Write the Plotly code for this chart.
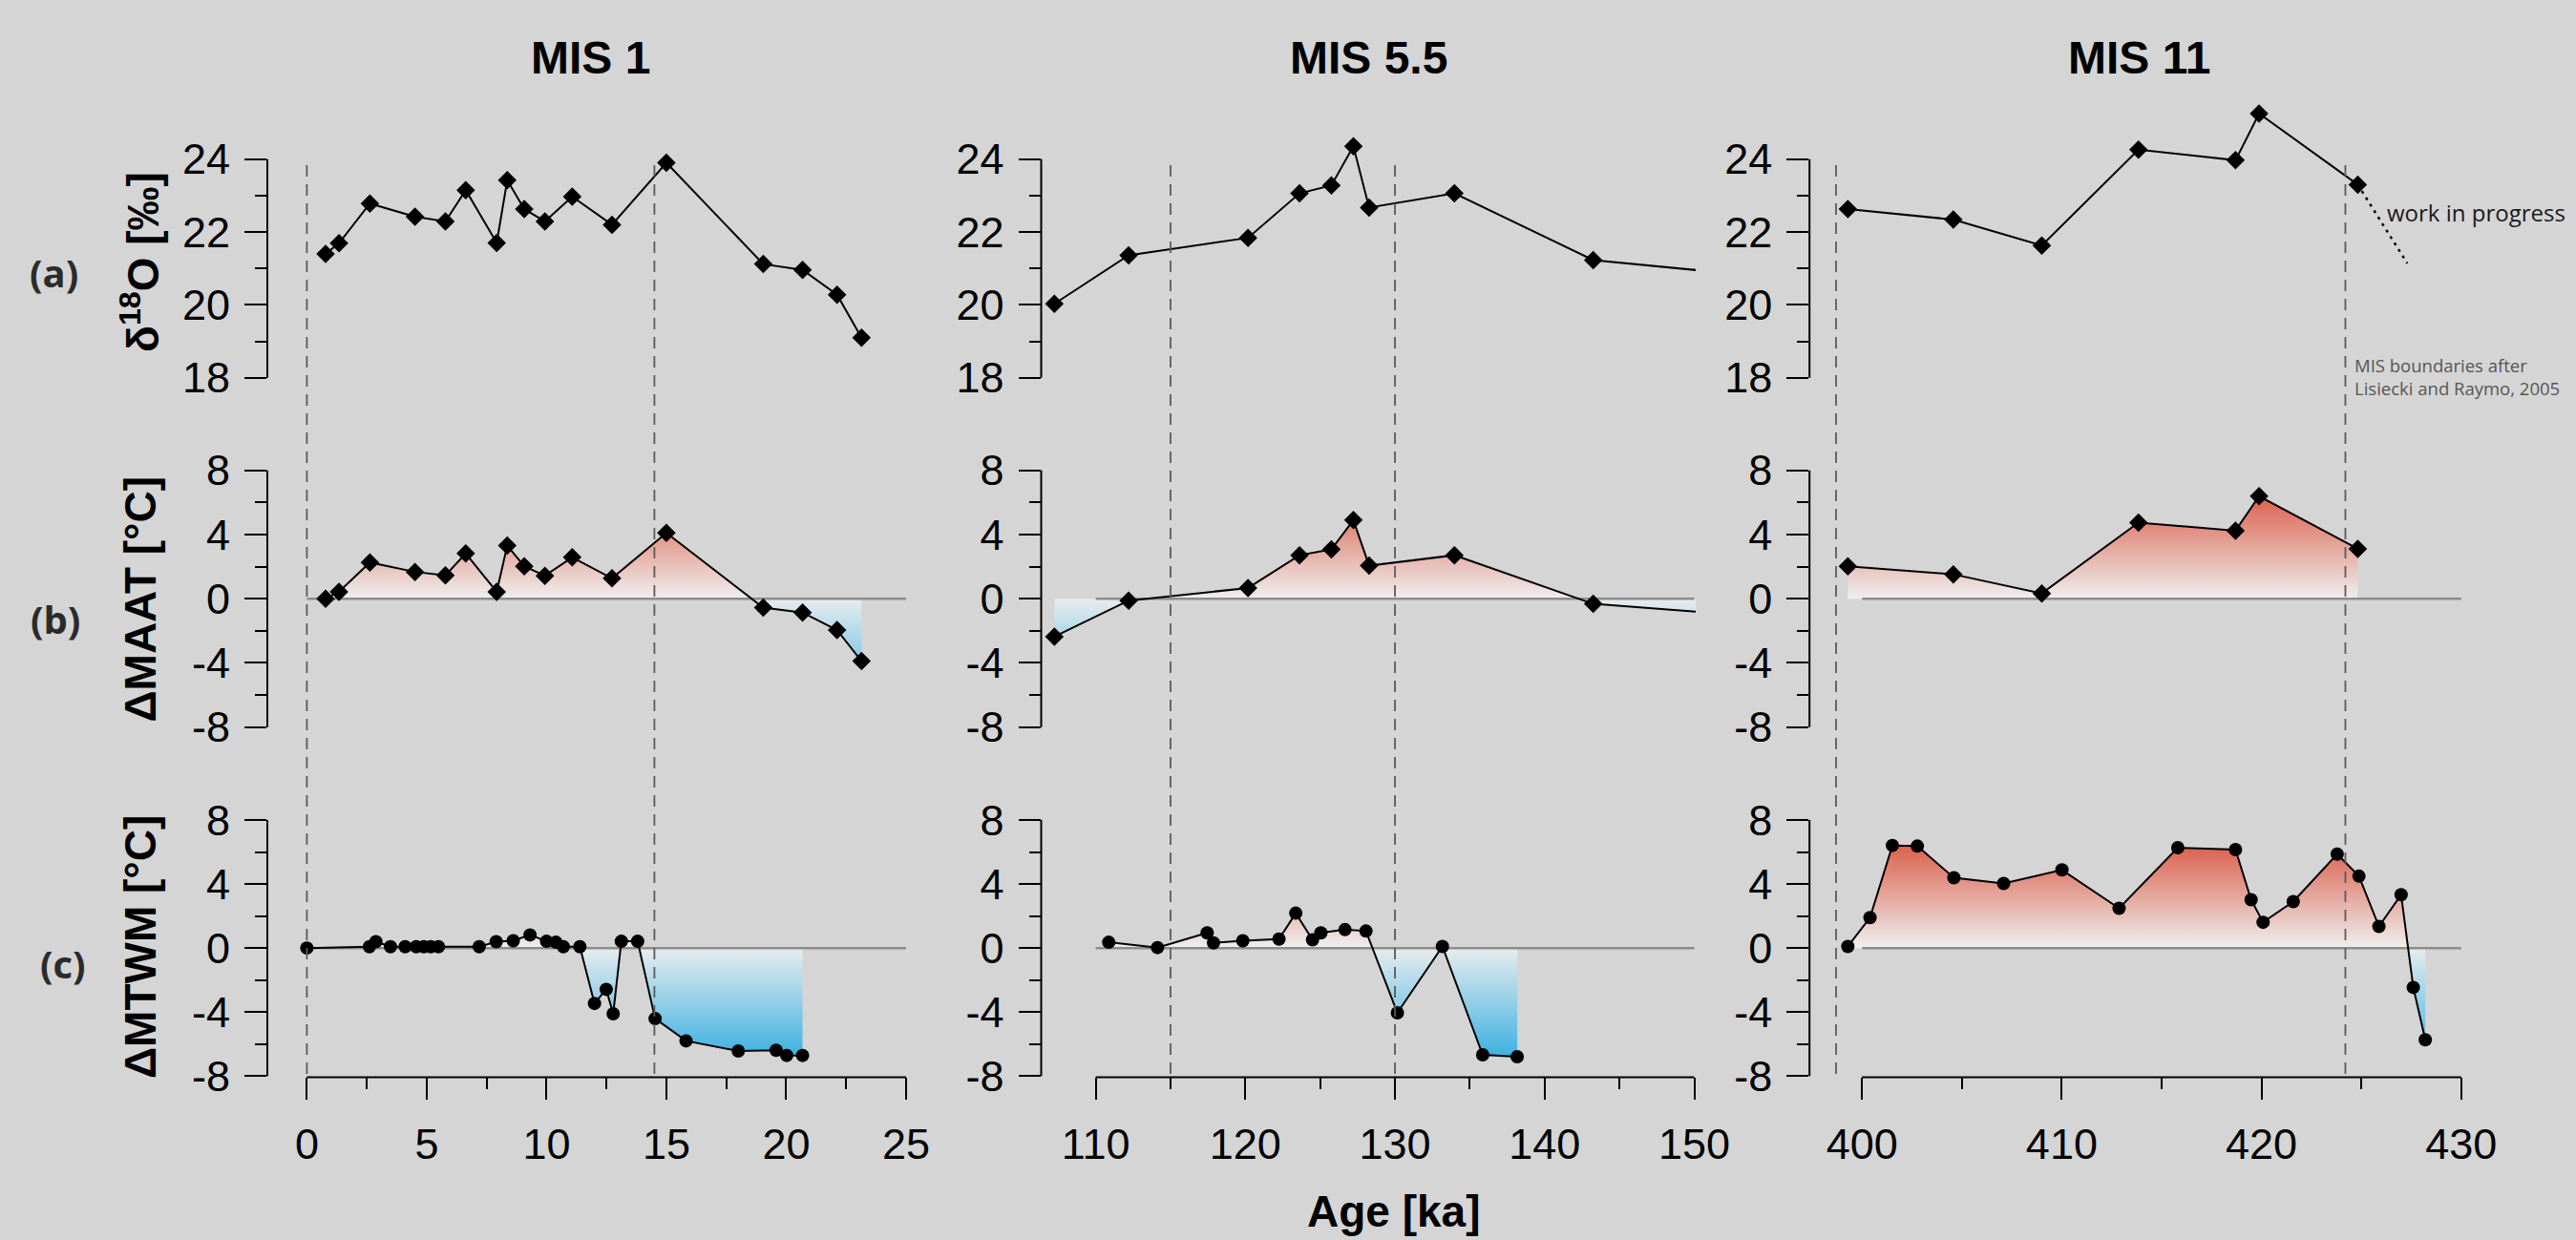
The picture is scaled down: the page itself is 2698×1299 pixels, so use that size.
import plotly.graph_objects as go

W, H = 2698, 1299

# ------------------------- data -------------------------
# MIS 1  (rows a, b share sample ages)
mis1_ab_age = [0.78, 1.34, 2.63, 4.51, 5.78, 6.63, 7.92, 8.36, 9.07, 9.93, 11.07, 12.73,
               15.0, 19.04, 20.68, 22.12, 23.14]
mis1_d18o = [21.40, 21.69, 22.78, 22.42, 22.29, 23.15, 21.70, 23.42, 22.63, 22.29, 22.97,
             22.20, 23.90, 21.12, 20.96, 20.28, 19.10]
mis1_maat = [0.00, 0.43, 2.26, 1.67, 1.46, 2.82, 0.43, 3.31, 2.02, 1.43, 2.58, 1.27,
             4.10, -0.56, -0.86, -1.95, -3.89]
mis1_c_age = [0.0, 2.61, 2.88, 3.49, 4.10, 4.56, 4.88, 5.17, 5.49, 7.19, 7.90, 8.61, 9.31,
              10.0, 10.39, 10.70, 11.39, 12.0, 12.49, 12.78, 13.12, 13.80, 14.53, 15.82,
              18.0, 19.58, 20.02, 20.68]
mis1_mtwm = [0.0, 0.08, 0.40, 0.08, 0.08, 0.08, 0.08, 0.08, 0.08, 0.08, 0.40, 0.46, 0.82,
             0.42, 0.36, 0.08, 0.08, -3.46, -2.58, -4.11, 0.42, 0.42, -4.41, -5.80,
             -6.43, -6.39, -6.71, -6.71]

# MIS 5.5
mis55_ab_age = [107.24, 112.2, 120.18, 123.62, 125.75, 127.22, 128.27, 133.97, 143.25, 152.0]
mis55_d18o = [20.03, 21.36, 21.84, 23.06, 23.28, 24.35, 22.67, 23.06, 21.23, 20.88]
mis55_maat = [-2.36, -0.12, 0.67, 2.71, 3.07, 4.90, 2.06, 2.71, -0.32, -0.94]
mis55_c_age = [110.87, 114.13, 117.45, 117.87, 119.83, 122.25, 123.37, 124.49, 125.05,
               126.66, 128.06, 130.16, 133.17, 135.86, 138.17]
mis55_mtwm = [0.36, 0.03, 0.95, 0.32, 0.46, 0.56, 2.18, 0.52, 0.95, 1.15, 1.06, -4.05,
              0.10, -6.67, -6.79]

# MIS 11
mis11_ab_age = [399.29, 404.57, 409.0, 413.84, 418.70, 419.88, 424.82]
mis11_d18o = [22.63, 22.34, 21.63, 24.26, 23.97, 25.25, 23.30]
mis11_maat = [2.02, 1.52, 0.33, 4.74, 4.24, 6.39, 3.11]
mis11_c_age = [399.29, 400.40, 401.52, 402.77, 404.60, 407.09, 410.01, 412.87, 415.81,
               418.70, 419.48, 420.08, 421.59, 423.79, 424.88, 425.88, 426.99, 427.60,
               428.20]
mis11_mtwm = [0.10, 1.90, 6.41, 6.37, 4.39, 4.03, 4.88, 2.48, 6.27, 6.15, 3.02, 1.61,
              2.90, 5.87, 4.49, 1.35, 3.33, -2.46, -5.73]
# "work in progress" continuation of the MIS 11 d18O record
mis11_wip_age = [424.82, 427.3]
mis11_wip_d18o = [23.30, 21.14]

# MIS boundaries (Lisiecki and Raymo)
mis1_bounds = [0.0, 14.5]
mis55_bounds = [115.0, 130.0]
mis11_bounds = [398.7, 424.2]

# tick labels
mis1_xticks = [0, 5, 10, 15, 20, 25]
mis1_xminor = [2.5, 7.5, 12.5, 17.5, 22.5]
mis55_xticks = [110, 120, 130, 140, 150]
mis55_xminor = [115, 125, 135, 145]
mis11_xticks = [400, 410, 420, 430]
mis11_xminor = [405, 415, 425]
d18o_ticks = [18, 20, 22, 24]
d18o_minor = [19, 21, 23]
temp_ticks = [-8, -4, 0, 4, 8]
temp_minor = [-6, -2, 2, 6]

column_titles = ["MIS 1", "MIS 5.5", "MIS 11"]
row_titles = ["δ<sup>18</sup>O [‰]", "ΔMAAT [°C]", "ΔMTWM [°C]"]
row_letters = ["(a)", "(b)", "(c)"]

# ------------------------- layout geometry (pixels) -------------------------
# per column: (value0, px0, value1, px1, left_px, right_px)
col_geo = [
    (0, 321.4, 25, 949.0, 280.0, 957.0),
    (110, 1147.6, 150, 1774.5, 1090.5, 1776.0),
    (400, 1950.2, 430, 2577.8, 1895.2, 2585.0),
]
# per row: (value_top, px_top, value_bot, px_bot, range_lo, range_hi)
row_geo = [
    (24, 166.7, 18, 395.7, 17.86, 25.8),
    (8, 492.7, -8, 761.7, -8.4, 8.4),
    (8, 859.0, -8, 1127.3, -8.07, 8.4),
]

columns = [
    dict(ab_age=mis1_ab_age, d18o=mis1_d18o, maat=mis1_maat, c_age=mis1_c_age,
         mtwm=mis1_mtwm, bounds=mis1_bounds, xt=mis1_xticks, xm=mis1_xminor),
    dict(ab_age=mis55_ab_age, d18o=mis55_d18o, maat=mis55_maat, c_age=mis55_c_age,
         mtwm=mis55_mtwm, bounds=mis55_bounds, xt=mis55_xticks, xm=mis55_xminor),
    dict(ab_age=mis11_ab_age, d18o=mis11_d18o, maat=mis11_maat, c_age=mis11_c_age,
         mtwm=mis11_mtwm, bounds=mis11_bounds, xt=mis11_xticks, xm=mis11_xminor),
]

TICKFONT = dict(family="Liberation Sans, Arial, Helvetica, sans-serif", size=45, color="black")
BOLD = "Liberation Sans, Arial, Helvetica, sans-serif"
HUMAN = "Open Sans, Noto Sans, sans-serif"
RED_GRAD = dict(type="vertical", start=0, stop=7,
                colorscale=[[0, "#efefee"], [1, "#d9533f"]])
BLUE_GRAD = dict(type="vertical", start=0, stop=-7,
                 colorscale=[[0, "#e8ecee"], [1, "#36afe0"]])


def ax_name(i):
    return "" if i == 1 else str(i)


def split_part(x, y, positive):
    xs, ys = [], []
    for k in range(len(x)):
        if k > 0 and y[k - 1] * y[k] < 0:
            xc = x[k - 1] + (x[k] - x[k - 1]) * y[k - 1] / (y[k - 1] - y[k])
            xs.append(xc)
            ys.append(0.0)
        xs.append(x[k])
        ys.append(max(y[k], 0.0) if positive else min(y[k], 0.0))
    return xs, ys


fig = go.Figure()
layout = {}
shapes = []
annotations = []

for c, col in enumerate(columns):
    v0, p0, v1, p1, lpx, rpx = col_geo[c]
    ppu = (p1 - p0) / (v1 - v0)
    xr = [v0 + (lpx - p0) / ppu, v0 + (rpx - p0) / ppu]
    xdom = [lpx / W, rpx / W]
    for r in range(3):
        i = r * 3 + c + 1
        n = ax_name(i)
        tv, tp, bv, bp, lo, hi = row_geo[r]
        yppu = (bp - tp) / (tv - bv)
        top_px = tp - (hi - tv) * yppu
        bot_px = bp + (bv - lo) * yppu
        ydom = [1 - bot_px / H, 1 - top_px / H]

        xa = dict(domain=xdom, range=xr, anchor="y" + n, showgrid=False, zeroline=False,
                  showline=False, automargin=False)
        if r == 2:
            xa.update(ticks="outside", ticklen=23, tickwidth=2, tickcolor="black",
                      tickmode="array", tickvals=col["xt"], ticktext=[str(t) for t in col["xt"]],
                      tickfont=TICKFONT, ticklabelstandoff=8,
                      minor=dict(ticks="outside", ticklen=12, tickwidth=2, tickcolor="black",
                                 tickmode="array", tickvals=col["xm"]))
        else:
            xa.update(visible=False)
        layout["xaxis" + n] = xa

        yt, ym = (d18o_ticks, d18o_minor) if r == 0 else (temp_ticks, temp_minor)
        layout["yaxis" + n] = dict(domain=ydom, range=[lo, hi], anchor="x" + n,
                                   showgrid=False, zeroline=False, showline=False,
                                   automargin=False,
                                   ticks="outside", ticklen=23, tickwidth=2, tickcolor="black",
                                   tickmode="array", tickvals=yt, ticklabelstandoff=6,
                                   ticktext=[str(t) for t in yt], tickfont=TICKFONT,
                                   minor=dict(ticks="outside", ticklen=12, tickwidth=2,
                                              tickcolor="black", tickmode="array", tickvals=ym))
        # y axis line over the tick span
        shapes.append(dict(type="line", xref="x" + n + " domain", yref="y" + n,
                           x0=0, x1=0, y0=yt[0], y1=yt[-1],
                           line=dict(color="black", width=2), layer="above"))
        if r == 2:
            shapes.append(dict(type="line", xref="x" + n, yref="y" + n + " domain",
                               x0=col["xt"][0], x1=col["xt"][-1], y0=0, y1=0,
                               line=dict(color="black", width=2), layer="above"))

        xk, yk = "x" + n, "y" + n
        if r == 0:
            xs, ys, sym, msize = col["ab_age"], col["d18o"], "diamond", 15
        elif r == 1:
            xs, ys, sym, msize = col["ab_age"], col["maat"], "diamond", 15
        else:
            xs, ys, sym, msize = col["c_age"], col["mtwm"], "circle", 14

        if r > 0:
            px_, py_ = split_part(xs, ys, True)
            fig.add_trace(go.Scatter(x=px_, y=py_, xaxis=xk, yaxis=yk, mode="lines",
                                     line=dict(width=0), fill="tozeroy",
                                     fillgradient=RED_GRAD, hoverinfo="skip",
                                     showlegend=False))
            nx_, ny_ = split_part(xs, ys, False)
            fig.add_trace(go.Scatter(x=nx_, y=ny_, xaxis=xk, yaxis=yk, mode="lines",
                                     line=dict(width=0), fill="tozeroy",
                                     fillgradient=BLUE_GRAD, hoverinfo="skip",
                                     showlegend=False))
            fig.add_trace(go.Scatter(x=[col["xt"][0], col["xt"][-1]], y=[0, 0],
                                     xaxis=xk, yaxis=yk, mode="lines",
                                     line=dict(color="#8c8c8c", width=2.5),
                                     hoverinfo="skip", showlegend=False))
        fig.add_trace(go.Scatter(x=xs, y=ys, xaxis=xk, yaxis=yk, mode="lines+markers",
                                 line=dict(color="black", width=2),
                                 marker=dict(symbol=sym, size=msize, color="black"),
                                 showlegend=False))
        if r == 0 and c == 2:
            fig.add_trace(go.Scatter(x=mis11_wip_age, y=mis11_wip_d18o, xaxis=xk, yaxis=yk,
                                     mode="lines", line=dict(color="black", width=2.5,
                                                             dash="3px,5px"),
                                     showlegend=False))

    # MIS boundary dashed lines spanning the whole column
    for b in col["bounds"]:
        shapes.append(dict(type="line", xref="x" + ax_name(7 + c), yref="paper",
                           x0=b, x1=b, y0=1 - 1125 / H, y1=1 - 166.7 / H,
                           line=dict(color="#5a5a5a", width=1.8, dash="12px,8px"),
                           layer="above"))

    # column title
    annotations.append(dict(text="<b>" + column_titles[c] + "</b>", xref="paper", yref="paper",
                            x=(lpx + rpx) / 2 / W, y=1 - 61 / H, showarrow=False,
                            xanchor="center", yanchor="middle",
                            font=dict(family=BOLD, size=48, color="black")))

# row titles and letters
title_y = [275.0, 627.5, 992.0]
letter_xy = [(56, 285), (58, 648), (66, 1010)]
for r in range(3):
    annotations.append(dict(text="<b>" + row_titles[r] + "</b>", xref="paper", yref="paper",
                            x=147 / W, y=1 - title_y[r] / H, showarrow=False, textangle=-90,
                            xanchor="center", yanchor="middle",
                            font=dict(family=BOLD, size=46, color="black")))
    lx, ly = letter_xy[r]
    annotations.append(dict(text="<b>" + row_letters[r] + "</b>", xref="paper", yref="paper",
                            x=lx / W, y=1 - ly / H, showarrow=False,
                            xanchor="center", yanchor="middle",
                            font=dict(family=HUMAN, size=40, color="#2b2b2b")))

annotations.append(dict(text="<b>Age [ka]</b>", xref="paper", yref="paper",
                        x=1459 / W, y=1 - 1297 / H, showarrow=False,
                        xanchor="center", yanchor="bottom",
                        font=dict(family=BOLD, size=46, color="black")))
annotations.append(dict(text="work in progress", xref="paper", yref="paper",
                        x=2498 / W, y=1 - 222 / H, showarrow=False,
                        xanchor="left", yanchor="middle",
                        font=dict(family=HUMAN, size=24, color="#1a1a1a")))
annotations.append(dict(text="MIS boundaries after<br>Lisiecki and Raymo, 2005",
                        xref="paper", yref="paper", x=2464 / W, y=1 - 395 / H,
                        showarrow=False, xanchor="left", yanchor="middle", align="left",
                        font=dict(family=HUMAN, size=18.5, color="#555555")))

fig.update_layout(**layout)
fig.update_layout(width=W, height=H,
                  margin=dict(l=0, r=0, t=0, b=0, pad=0, autoexpand=False),
                  paper_bgcolor="#d5d5d5", plot_bgcolor="rgba(0,0,0,0)",
                  shapes=shapes, annotations=annotations, showlegend=False)

fig.write_html("out.html",
               config={"displayModeBar": False},
               post_script="document.body.style.margin='0';"
                           "document.body.style.overflow='hidden';")
